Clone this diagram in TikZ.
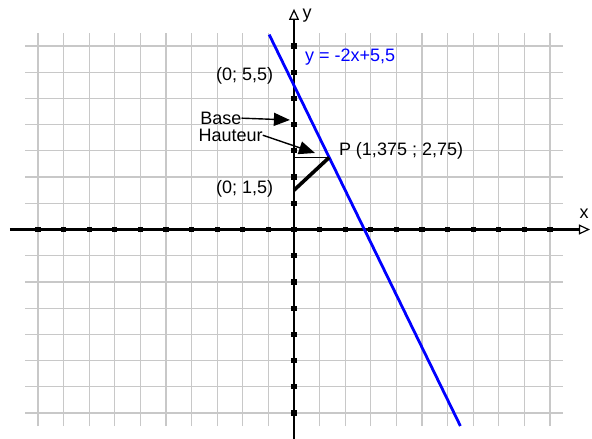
\documentclass[tikz,border=0pt]{standalone}
\usepackage{fontspec}
\setmainfont{Liberation Sans}
\usetikzlibrary{arrows.meta}
\definecolor{grisgrille}{RGB}{200,200,200}
\begin{document}
\begin{tikzpicture}[x=25.6pt,y=26.2pt,font=\fontsize{18}{20}\selectfont,
  grille/.style={grisgrille,line width=1.2pt},
  axe/.style={line width=2.6pt,-{Triangle[open,length=11pt,width=10pt,line width=1.2pt]}},
  fleche/.style={line width=1.4pt,-{Triangle[length=16pt,width=13pt]}},
  droite/.style={blue,line width=2.8pt}]
  \useasboundingbox (-294pt,-209.5pt) rectangle (298pt,229.5pt);
  % quadrillage
  \foreach \i in {-10,...,10} \draw[grille] (\i,-7.5) -- (\i,7.5);
  \foreach \j in {-7,...,7} \draw[grille] (-10.5,\j) -- (10.5,\j);
  % axes
  \coordinate (xdeb) at (-11.1,0);
  \coordinate (xfin) at (11.56,0);
  \coordinate (ydeb) at (0,-8.1);
  \coordinate (yfin) at (0,8.42);
  \draw[axe] (xdeb) -- (xfin);
  \draw[axe] (ydeb) -- (yfin);
  \foreach \i in {-10,...,10} \fill (\i,0) +(-2.6pt,-2.6pt) rectangle +(2.6pt,2.6pt);
  \foreach \j in {-7,...,7} \fill (0,\j) +(-2.6pt,-2.6pt) rectangle +(2.6pt,2.6pt);
  \node[anchor=south] (lx) at (11.33,0.28) {x};
  \node[anchor=west] (ly) at (0.2,8.15) {y};
  % droite y = -2x+5,5
  \coordinate (d1) at (-0.97,7.44);
  \coordinate (d2) at (6.5,-7.5);
  \draw[droite] (d1) -- (d2);
  \node[anchor=west,blue] (eq) at (0.3,6.58) {y = -2x+5,5};
  % points
  \coordinate (A) at (0,5.5);
  \coordinate (B) at (0,1.5);
  \coordinate (H) at (0,2.75);
  \coordinate (P) at (1.375,2.75);
  \node[anchor=east] (la) at (-0.68,5.86) {(0; 5,5)};
  \node[anchor=east] (lb) at (-0.68,1.54) {(0; 1,5)};
  \node[anchor=west] (lp) at (1.62,3.0) {P (1,375 ; 2,75)};
  \draw[line width=1.2pt] (H) -- (P);
  \draw[line width=3.6pt] (B) -- (P);
  % base et hauteur
  \node[anchor=east,inner sep=0pt] (base) at (-2.05,4.25) {Base};
  \node[anchor=east,inner sep=0pt] (haut) at (-1.22,3.6) {Hauteur};
  \coordinate (tb) at (-0.16,4.18);
  \coordinate (th) at (0.82,2.92);
  \draw[fleche] (base.east) -- (tb);
  \draw[fleche] (haut.east) -- (th);
\end{tikzpicture}
\end{document}
